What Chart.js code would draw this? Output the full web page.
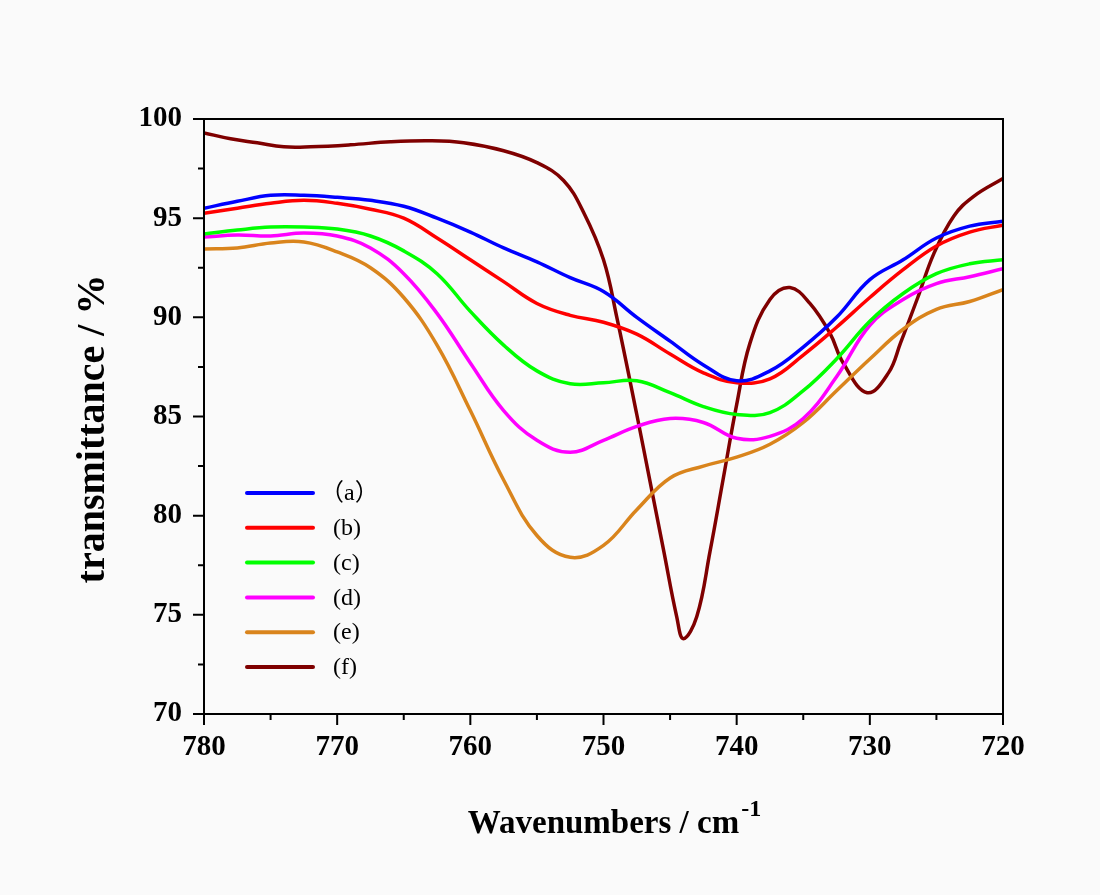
<!DOCTYPE html>
<html lang="en">
<head>
  <meta charset="UTF-8">
  <title>Transmittance spectra 780-720 cm-1</title>
  <script src="https://cdn.jsdelivr.net/npm/chart.js@4.4.0/dist/chart.umd.min.js"></script>
  <style>
    html, body { margin: 0; padding: 0; background: #fafafa; }
    #wrap { width: 1100px; height: 895px; }
  </style>
</head>
<body>
  <div id="wrap"><canvas id="irChart" width="1100" height="895"></canvas></div>

  <script>
    // shared wavenumber grid for curves (a)-(e)
    const waveNumbers = [780, 777.5, 775, 772.5, 770, 767.5, 765, 762.5, 760, 757.5, 755, 752.5, 750,
                         747.5, 745, 742.5, 740, 737.5, 735, 732.5, 730, 727.5, 725, 722.5, 720];

    const seriesA = [95.5, 95.85, 96.15, 96.15, 96.05, 95.9, 95.6, 95.0, 94.3, 93.5, 92.8, 92.0, 91.3,
                     90.0, 88.8, 87.6, 86.8, 87.3, 88.5, 90.0, 91.9, 92.9, 94.0, 94.6, 94.85];
    const seriesB = [95.25, 95.5, 95.75, 95.9, 95.75, 95.45, 95.0, 94.0, 92.9, 91.8, 90.7, 90.1, 89.75,
                     89.15, 88.15, 87.2, 86.7, 86.9, 88.1, 89.5, 91.0, 92.4, 93.6, 94.3, 94.65];
    const seriesC = [94.2, 94.4, 94.55, 94.55, 94.45, 94.1, 93.35, 92.2, 90.3, 88.6, 87.3, 86.65, 86.7,
                     86.8, 86.2, 85.5, 85.1, 85.2, 86.3, 87.9, 89.8, 91.2, 92.2, 92.7, 92.9];
    const seriesD = [94.05, 94.15, 94.1, 94.25, 94.1, 93.5, 92.2, 90.2, 87.7, 85.3, 83.8, 83.2, 83.8,
                     84.5, 84.9, 84.7, 83.9, 84.0, 84.9, 87.0, 89.6, 90.9, 91.7, 92.05, 92.45];
    const seriesE = [93.45, 93.5, 93.75, 93.8, 93.3, 92.5, 91.0, 88.6, 85.3, 81.8, 79.0, 77.9, 78.5,
                     80.3, 81.9, 82.5, 82.95, 83.6, 84.7, 86.3, 87.9, 89.4, 90.4, 90.8, 91.4];

    // curve (f) has sharp features, read on its own grid
    const waveF = [780, 778, 776, 774, 772, 769, 766, 763, 760.5, 757.5, 755, 753, 751.5, 750, 749,
                   747.5, 746.5, 745.5, 744.5, 744, 743, 742, 741, 740, 739, 737.5, 736, 734.5, 733,
                   732, 730.2, 728.6, 727.7, 726.4, 725.2, 723.7, 722.2, 720];
    const seriesF = [99.3, 99.0, 98.8, 98.6, 98.6, 98.7, 98.85, 98.9, 98.8, 98.4, 97.8, 96.9, 95.3, 92.9, 90.0,
                     85.1, 81.7, 78.3, 74.9, 73.8, 74.9, 78.2, 81.9, 85.6, 88.7, 90.9, 91.5, 90.7, 89.2,
                     87.7, 86.2, 87.2, 88.7, 91.0, 93.2, 95.1, 96.1, 97.0];

    const seriesLabels = ['\uFF08a\uFF09', '(b)', '(c)', '(d)', '(e)', '(f)'];
    const seriesColors = ['#0000ff', '#ff0000', '#00ff00', '#ff00ff', '#d9841c', '#7f0000'];

    const xTicks = [780, 770, 760, 750, 740, 730, 720];
    const yTicks = [70, 75, 80, 85, 90, 95, 100];

    const serif = '"Liberation Serif", "Times New Roman", "Noto Sans CJK SC", serif';

    function toPoints(xs, ys) {
      return xs.map((x, i) => ({ x: x, y: ys[i] }));
    }

    const allY = [seriesA, seriesB, seriesC, seriesD, seriesE];
    const datasets = allY.map((ys, i) => ({
      label: seriesLabels[i],
      data: toPoints(waveNumbers, ys),
      borderColor: seriesColors[i]
    }));
    datasets.push({ label: seriesLabels[5], data: toPoints(waveF, seriesF), borderColor: seriesColors[5] });

    // box frame, outward major/minor ticks, in-plot legend, axis titles with superscript
    const decorations = {
      id: 'decorations',
      afterDraw(chart) {
        const { ctx, chartArea: a, scales: { x, y } } = chart;
        ctx.save();
        ctx.strokeStyle = '#000';
        ctx.lineWidth = 2;
        ctx.strokeRect(a.left, a.top, a.right - a.left, a.bottom - a.top);

        ctx.beginPath();
        xTicks.forEach((v, i) => {
          const px = x.getPixelForValue(v);
          ctx.moveTo(px, a.bottom); ctx.lineTo(px, a.bottom + 11);
          if (i < xTicks.length - 1) {
            const mx = x.getPixelForValue((v + xTicks[i + 1]) / 2);
            ctx.moveTo(mx, a.bottom); ctx.lineTo(mx, a.bottom + 6);
          }
        });
        yTicks.forEach((v, i) => {
          const py = y.getPixelForValue(v);
          ctx.moveTo(a.left, py); ctx.lineTo(a.left - 11, py);
          if (i < yTicks.length - 1) {
            const my = y.getPixelForValue((v + yTicks[i + 1]) / 2);
            ctx.moveTo(a.left, my); ctx.lineTo(a.left - 6, my);
          }
        });
        ctx.stroke();

        // legend
        ctx.lineWidth = 4;
        ctx.lineCap = 'round';
        ctx.font = '24px ' + serif;
        ctx.textBaseline = 'middle';
        ctx.textAlign = 'left';
        ctx.fillStyle = '#000';
        chart.data.datasets.forEach((ds, i) => {
          const ly = 493 + i * 34.8;
          ctx.strokeStyle = ds.borderColor;
          ctx.beginPath();
          ctx.moveTo(a.left + 43, ly); ctx.lineTo(a.left + 109, ly);
          ctx.stroke();
          // full-width brackets carry their own side bearing
          const shift = ds.label.charAt(0) === '\uFF08' ? -13 : 0;
          ctx.fillText(ds.label, a.left + 129 + shift, ly + 1);
        });

        // y title (sits a little below the axis centre in the original)
        ctx.save();
        ctx.translate(94, 429);
        ctx.rotate(-Math.PI / 2);
        ctx.font = 'bold 40px ' + serif;
        ctx.textAlign = 'center';
        ctx.fillText('transmittance / %', 0, 0);
        ctx.restore();

        // superscript "-1"
        ctx.font = 'bold 33px ' + serif;
        const w = ctx.measureText('Wavenumbers / cm').width;
        const cx = (a.left + a.right) / 2;
        ctx.font = 'bold 24px ' + serif;
        ctx.textBaseline = 'alphabetic';
        ctx.fillText('-1', cx + w / 2 + 2, 816);
        ctx.restore();
      }
    };

    new Chart(document.getElementById('irChart'), {
      type: 'line',
      data: { datasets: datasets },
      plugins: [decorations],
      options: {
        responsive: false,
        animation: false,
        layout: { padding: { left: 0, top: 119, right: 97, bottom: 0 } },
        elements: {
          point: { radius: 0 },
          line: { borderWidth: 3.5, tension: 0.4, borderCapStyle: 'round', borderJoinStyle: 'round' }
        },
        plugins: { legend: { display: false }, tooltip: { enabled: false } },
        scales: {
          x: {
            type: 'linear',
            reverse: true,
            min: 720,
            max: 780,
            afterFit: s => { s.height = 181; },
            afterBuildTicks: s => { s.ticks = xTicks.map(v => ({ value: v })); },
            grid: { display: false, drawTicks: false, tickLength: 0 },
            border: { display: true, color: '#000', width: 2 },
            ticks: {
              color: '#000',
              padding: 16,
              maxRotation: 0,
              autoSkip: false,
              font: { family: serif, size: 29, weight: 'bold' }
            },
            title: {
              display: true,
              text: 'Wavenumbers / cm',
              color: '#000',
              font: { family: serif, size: 33, weight: 'bold' },
              padding: { top: 0, bottom: 51 }
            }
          },
          y: {
            type: 'linear',
            min: 70,
            max: 100,
            afterFit: s => { s.width = 204; },
            afterBuildTicks: s => { s.ticks = yTicks.map(v => ({ value: v })); },
            grid: { display: false, drawTicks: false, tickLength: 0 },
            border: { display: true, color: '#000', width: 2 },
            ticks: {
              color: '#000',
              padding: 22,
              font: { family: serif, size: 29, weight: 'bold' }
            },
            title: { display: false }
          }
        }
      }
    });
  </script>
</body>
</html>
